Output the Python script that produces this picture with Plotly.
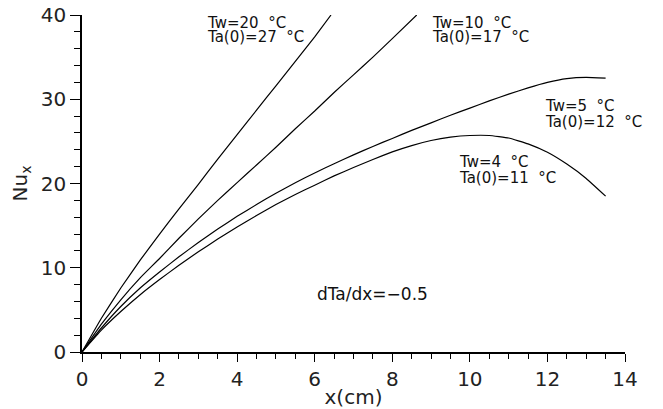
import plotly.graph_objects as go

# Data
x_tw20 = [0, 0.5, 1, 1.5, 2, 2.5, 3, 3.5, 4, 4.5, 5, 5.5, 6, 6.42]
nu_tw20 = [0, 4.0, 7.6, 10.9, 14.0, 17.0, 19.9, 22.9, 25.8, 28.7, 31.6, 34.5, 37.4, 40.0]

x_tw10 = [0, 0.5, 1, 1.5, 2, 2.5, 3, 3.5, 4, 4.5, 5, 5.5, 6, 6.5, 7, 7.5, 8, 8.63]
nu_tw10 = [0, 3.3, 6.2, 8.8, 11.1, 13.5, 15.8, 18.0, 20.1, 22.2, 24.3, 26.5, 28.6, 30.8, 32.9, 35.0, 37.2, 40.0]

x_tw5 = [0, 0.5, 1, 1.5, 2, 2.5, 3, 3.5, 4, 4.5, 5, 5.5, 6, 6.5, 7, 7.5, 8, 8.5, 9, 9.5,
         10, 10.5, 11, 11.5, 12, 12.5, 13, 13.5]
nu_tw5 = [0, 2.85, 5.4, 7.6, 9.5, 11.3, 13.0, 14.6, 16.1, 17.5, 18.85, 20.1, 21.25, 22.35, 23.4, 24.4,
          25.35, 26.3, 27.2, 28.1, 28.95, 29.8, 30.6, 31.35, 32.0, 32.45, 32.6, 32.5]

x_tw4 = [0, 0.5, 1, 1.5, 2, 2.5, 3, 3.5, 4, 4.5, 5, 5.5, 6, 6.5, 7, 7.5, 8, 8.5, 9, 9.5,
         10, 10.5, 11, 11.5, 12, 12.5, 13, 13.5]
nu_tw4 = [0, 2.6, 4.8, 6.8, 8.6, 10.3, 11.9, 13.4, 14.85, 16.2, 17.5, 18.7, 19.8, 20.9, 21.9, 22.85,
          23.75, 24.5, 25.1, 25.5, 25.7, 25.7, 25.4, 24.7, 23.7, 22.3, 20.6, 18.5]

x_ticks = [0, 2, 4, 6, 8, 10, 12, 14]
y_ticks = [0, 10, 20, 30, 40]

# (line 1, line 2, x of left edge, y of line 1, y of line 2)
labels = [
    ("Tw=20  °C", "Ta(0)=27  °C", 3.17, 39.0, 37.35),
    ("Tw=10  °C", "Ta(0)=17  °C", 8.97, 39.0, 37.35),
    ("Tw=5  °C", "Ta(0)=12  °C", 11.88, 29.2, 27.3),
    ("Tw=4  °C", "Ta(0)=11  °C", 9.67, 22.6, 20.7),
]
note_text = "dTa/dx=−0.5"
note_x, note_y = 7.48, 6.9

FONT = "DejaVu Sans"
TXT = "#111"

fig = go.Figure()
for xs, ys in [(x_tw20, nu_tw20), (x_tw10, nu_tw10), (x_tw5, nu_tw5), (x_tw4, nu_tw4)]:
    fig.add_trace(go.Scatter(x=xs, y=ys, mode="lines",
                             line=dict(color="black", width=1.2, shape="spline", smoothing=0.3),
                             showlegend=False, hoverinfo="skip"))

ann = []
for l1, l2, x0, y1, y2 in labels:
    ann.append(dict(x=x0, y=y1, xref="x", yref="y", text=l1, showarrow=False,
                    xanchor="left", yanchor="middle", font=dict(family=FONT, size=15, color=TXT)))
    ann.append(dict(x=x0, y=y2, xref="x", yref="y", text=l2, showarrow=False,
                    xanchor="left", yanchor="middle", font=dict(family=FONT, size=15, color=TXT)))
ann.append(dict(x=note_x, y=note_y, xref="x", yref="y", text=note_text, showarrow=False,
                xanchor="center", yanchor="middle", font=dict(family=FONT, size=17, color=TXT)))

# page body has an 8px default margin: the figure is sized/offset to compensate
fig.update_layout(
    width=655, height=401,
    margin=dict(l=74, r=38, t=7, b=57, pad=0),
    paper_bgcolor="white", plot_bgcolor="white",
    font=dict(family=FONT, color=TXT),
    annotations=ann,
    xaxis=dict(range=[0, 14], tickvals=x_ticks, ticktext=[str(v) for v in x_ticks],
               automargin=False, ticklabeloverflow="allow",
               showgrid=False, zeroline=False, showline=True, linecolor="black", linewidth=1.5,
               ticks="outside", ticklen=8, tickwidth=1.2, tickcolor="black",
               tickfont=dict(family=FONT, size=20, color="#222"),
               minor=dict(dtick=0.5, ticks="outside", ticklen=5, tickwidth=1, tickcolor="black", showgrid=False),
               title=dict(text="x(cm)", font=dict(family=FONT, size=20, color="#222"), standoff=4)),
    yaxis=dict(range=[0, 40], tickvals=y_ticks, ticktext=[str(v) for v in y_ticks],
               automargin=False, ticklabeloverflow="allow",
               showgrid=False, zeroline=False, showline=True, linecolor="black", linewidth=1.5,
               ticks="outside", ticklen=10, tickwidth=1.2, tickcolor="black",
               tickfont=dict(family=FONT, size=20, color="#222"),
               minor=dict(dtick=2, ticks="outside", ticklen=6, tickwidth=1, tickcolor="black", showgrid=False),
               title=dict(text="Nu<sub>x</sub>", font=dict(family=FONT, size=20, color="#222"), standoff=8)),
)

fig.write_html("out.html")
